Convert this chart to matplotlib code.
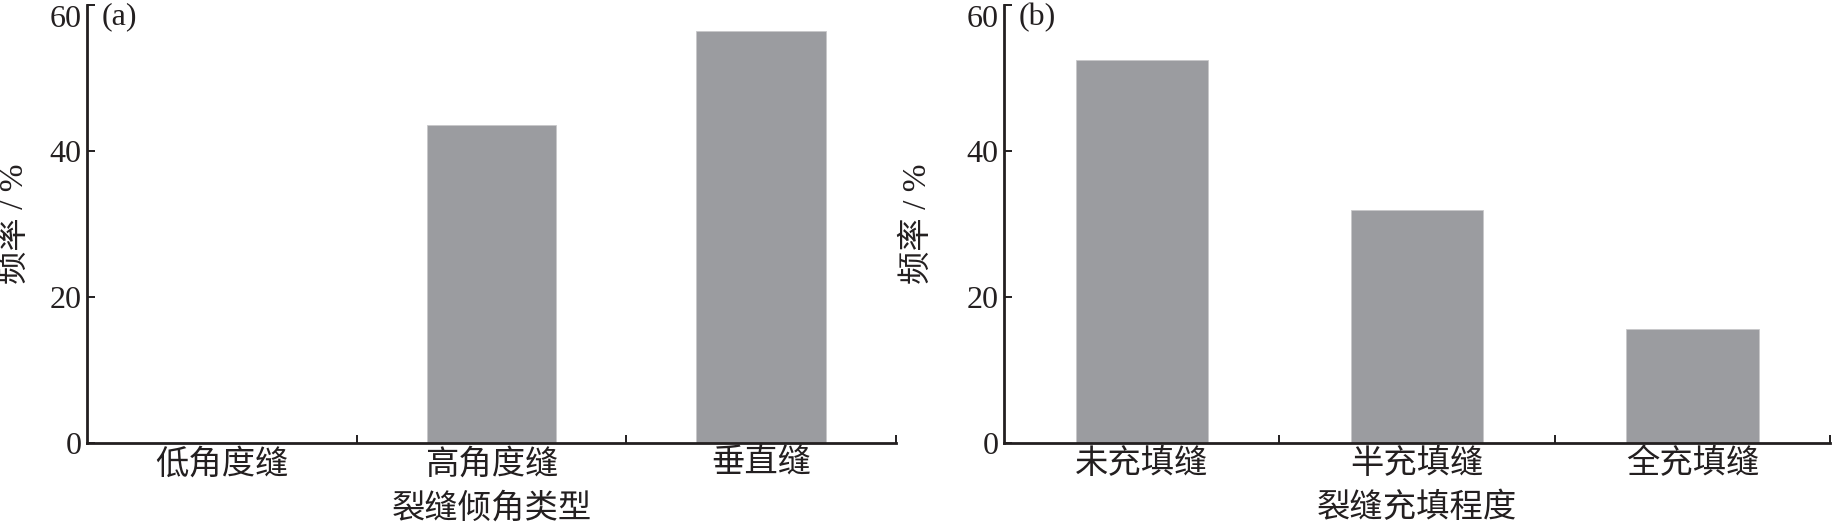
import numpy as np
import matplotlib.pyplot as plt

plt.rcParams['font.family'] = ['Liberation Serif', 'Noto Sans CJK SC']

# (a) fracture dip type
dip_types = ['低角度缝', '高角度缝', '垂直缝']
dip_freq = [0.0, 43.6, 56.4]

# (b) fracture filling degree
fill_types = ['未充填缝', '半充填缝', '全充填缝']
fill_freq = [52.4, 31.9, 15.7]

bar_color = '#9b9ca0'
ink = '#231f20'

fig = plt.figure(figsize=(18.34, 5.26), dpi=100)
ax1 = fig.add_axes([0.0474, 0.157, 0.4412, 0.834])
ax2 = fig.add_axes([0.5474, 0.157, 0.4506, 0.834])

panels = [(ax1, dip_types, dip_freq, '裂缝倾角类型', '(a)'),
          (ax2, fill_types, fill_freq, '裂缝充填程度', '(b)')]

for ax, cats, vals, xlab, tag in panels:
    x = np.arange(len(cats))
    ax.bar(x, vals, width=0.48, color=bar_color, edgecolor='#c8c8ca', linewidth=0.6)
    ax.set_xlim(-0.5, len(cats) - 0.5)
    ax.set_ylim(0, 60)
    ax.set_yticks([0, 20, 40, 60])
    ax.set_xticks(x)
    ax.set_xticklabels(cats, fontsize=24)
    ax.set_xticks(x + 0.5, minor=True)
    ax.tick_params(axis='x', which='major', length=0, pad=4, colors=ink)
    ax.tick_params(axis='x', which='minor', direction='in', length=6, width=1.4, color=ink)
    ax.tick_params(axis='y', direction='in', length=6, width=1.4, labelsize=23, pad=4, colors=ink)
    ax.get_yticklabels()[-1].set_va('top')
    for s in ['top', 'right']:
        ax.spines[s].set_visible(False)
    for s in ['left', 'bottom']:
        ax.spines[s].set_linewidth(2.0)
        ax.spines[s].set_color(ink)
    ax.set_xlabel(xlab, fontsize=24, color=ink)
    ax.xaxis.set_label_coords(0.5, -0.112)
    ax.set_ylabel('频率 / %', fontsize=24, color=ink)
    ax.text(0.018, 1.005, tag, transform=ax.transAxes, fontsize=23, color=ink,
            ha='left', va='top')

ax1.yaxis.set_label_coords(-0.071, 0.5)
ax2.yaxis.set_label_coords(-0.086, 0.5)

fig.savefig('out.png', dpi=100)
